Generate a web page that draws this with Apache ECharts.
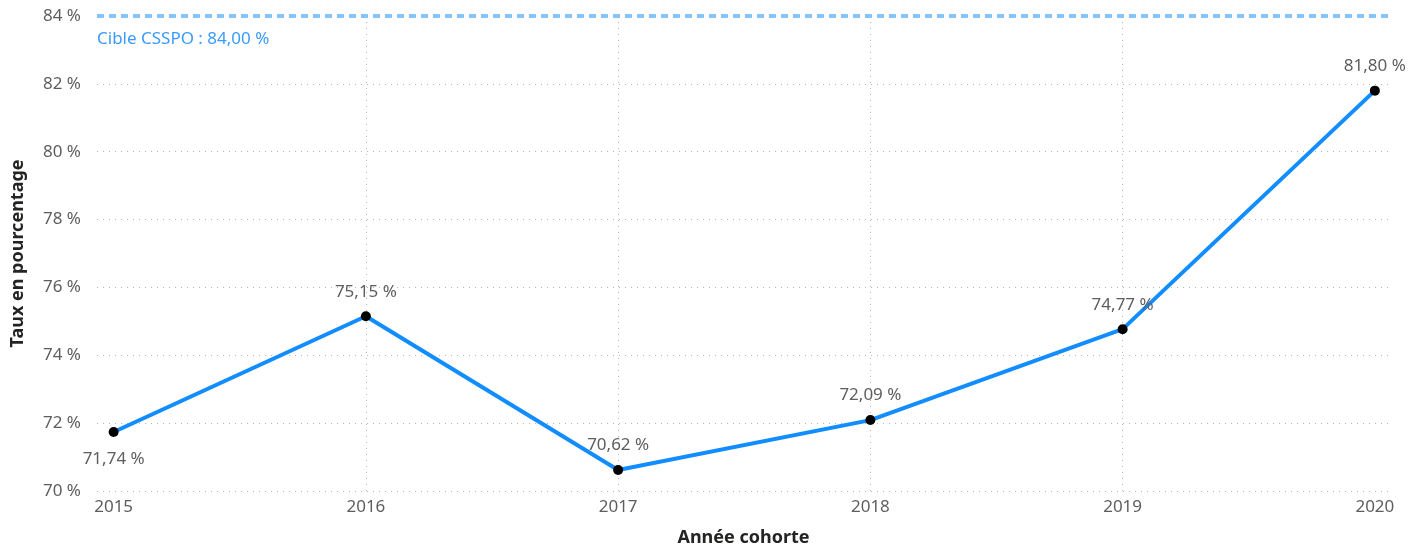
<!DOCTYPE html>
<html>
<head>
<meta charset="utf-8">
<script src="https://cdn.jsdelivr.net/npm/echarts@6/dist/echarts.min.js"></script>
<style>
  html, body { margin: 0; padding: 0; background: #fff; }
  #chart { width: 1416px; height: 548px; }
</style>
</head>
<body>
<div id="chart"></div>
<script>
const years = [2015, 2016, 2017, 2018, 2019, 2020]
const rates = [71.74, 75.15, 70.62, 72.09, 74.77, 81.80]
const target = 84
const yTicks = [70, 72, 74, 76, 78, 80, 82, 84]

const font = '"Noto Sans", "Open Sans", sans-serif'
const fmt = v => v.toFixed(2).replace('.', ',') + ' %'

const chart = echarts.init(document.getElementById('chart'))
chart.setOption({
    animation: false,
    textStyle: { fontFamily: font },
    grid: { left: 97, right: 26, top: 16, bottom: 57, outerBoundsMode: 'none', containLabel: false },
    xAxis: {
        type: 'value',
        min: 2014.934,
        max: 2020.06,
        name: 'Année cohorte',
        nameLocation: 'middle',
        nameGap: 38,
        nameTextStyle: { color: '#252423', fontSize: 18, fontWeight: 'bold', fontFamily: font },
        axisLine: { show: false },
        axisTick: { show: false, customValues: years },
        axisLabel: {
            customValues: years,
            color: '#605E5C', fontSize: 17, margin: 8,
            formatter: v => String(v)
        },
        splitLine: {
            show: true, showMinLine: false, showMaxLine: false,
            lineStyle: { color: '#B8B6B4', type: [1, 5], width: 1 }
        }
    },
    yAxis: {
        type: 'value',
        min: 70,
        max: 84,
        interval: 2,
        name: 'Taux en pourcentage',
        nameLocation: 'middle',
        nameGap: 70,
        nameTextStyle: { color: '#252423', fontSize: 18, fontWeight: 'bold', fontFamily: font },
        axisLine: { show: false },
        axisTick: { show: false },
        axisLabel: { color: '#605E5C', fontSize: 17, margin: 16, formatter: v => yTicks.includes(v) ? v + ' %' : '' },
        splitLine: { lineStyle: { color: '#B8B6B4', type: [1, 5], width: 1 } }
    },
    series: [{
        type: 'line',
        data: years.map((y, i) => i === 0
            ? { value: [y, rates[i]], label: { position: 'bottom', distance: 14 } }
            : [y, rates[i]]),
        lineStyle: { color: '#118DFF', width: 4 },
        symbol: 'circle',
        symbolSize: 10,
        itemStyle: { color: '#000' },
        label: {
            show: true,
            position: 'top',
            distance: 11,
            color: '#605E5C',
            fontSize: 17,
            formatter: p => fmt(p.value[1])
        },
        labelLayout: { hideOverlap: false },
        markLine: {
            silent: true,
            symbol: 'none',
            data: [{ yAxis: target }],
            lineStyle: { color: '#86C3FF', type: [7, 5], width: 4 },
            label: {
                position: 'insideStartBottom',
                distance: [0, 15],
                color: '#3A9BFF',
                fontSize: 17,
                formatter: () => 'Cible CSSPO : ' + fmt(target)
            }
        }
    }]
})
</script>
</body>
</html>
